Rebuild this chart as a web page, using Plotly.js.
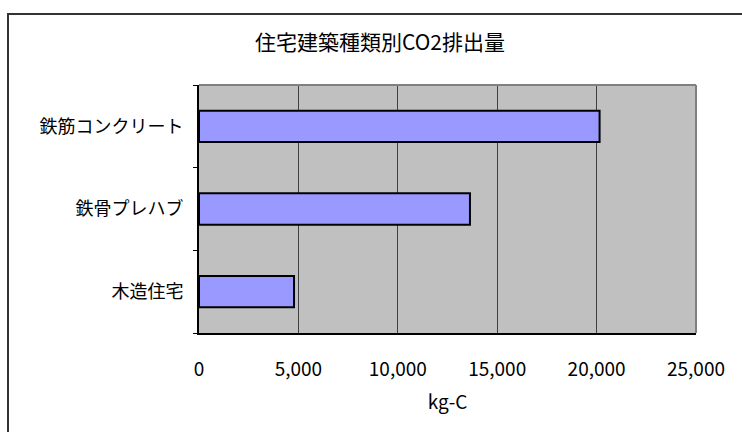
<!DOCTYPE html>
<html>
<head>
<meta charset="utf-8">
<script src="https://cdn.plot.ly/plotly-3.0.1.min.js"></script>
<style>
  html, body { margin: 0; padding: 0; background: #fff; overflow: hidden; }
  #wrap { position: relative; width: 742px; height: 432px; }
  #chart { position: absolute; left: 0; top: 0; width: 742px; height: 432px; }
  #frame { position: absolute; left: 7px; top: 13px; width: 800px; height: 500px;
           border-top: 2px solid #333; border-left: 2px solid #333; pointer-events: none; }
</style>
</head>
<body>
<div id="wrap">
  <div id="chart"></div>
  <div id="frame"></div>
</div>
<script>
// Data (bottom to top as drawn)
const categories = ['木造住宅', '鉄骨プレハブ', '鉄筋コンクリート'];
const values = [4780, 13630, 20150];
const xTicks = [0, 5000, 10000, 15000, 20000, 25000];
const titleText = '住宅建築種類別CO2排出量';
const xTitle = 'kg-C';

const font = '"Noto Sans CJK JP", "Noto Sans", sans-serif';

const trace = {
  type: 'bar',
  orientation: 'h',
  y: categories,
  x: values,
  marker: { color: '#9999FF', line: { color: '#000000', width: 2 } },
  hoverinfo: 'none'
};

const layout = {
  width: 742,
  height: 432,
  margin: { l: 199, r: 46, t: 85, b: 99 },
  paper_bgcolor: '#ffffff',
  plot_bgcolor: '#C0C0C0',
  showlegend: false,
  bargap: 0.62,
  font: { family: font, color: '#000', size: 18 },
  title: {
    text: titleText,
    font: { family: font, size: 21, color: '#000' },
    x: 380 / 742, xref: 'container', xanchor: 'center',
    y: 1 - 43 / 432, yref: 'container', yanchor: 'middle'
  },
  xaxis: {
    range: [0, 25000],
    tickvals: xTicks,
    tickformat: ',d',
    showgrid: true,
    gridcolor: '#404040',
    gridwidth: 1,
    zeroline: false,
    showline: true,
    linecolor: '#000',
    linewidth: 2,
    ticks: '',
    ticklabelstandoff: 18,
    tickfont: { family: font, size: 19, color: '#000' },
    title: { text: xTitle, font: { family: font, size: 19, color: '#000' }, standoff: 16 },
    automargin: false,
    fixedrange: true
  },
  yaxis: {
    type: 'category',
    showgrid: false,
    zeroline: false,
    showline: true,
    linecolor: '#000',
    linewidth: 2,
    ticks: 'outside',
    tickson: 'boundaries',
    ticklen: 4,
    tickcolor: '#000',
    tickwidth: 1,
    ticklabelstandoff: 10,
    tickfont: { family: font, size: 18, color: '#000' },
    automargin: false,
    fixedrange: true
  },
  shapes: [
    { type: 'line', xref: 'paper', yref: 'paper', x0: 0, x1: 1, y0: 1, y1: 1,
      line: { color: '#808080', width: 2 }, layer: 'above' },
    { type: 'line', xref: 'paper', yref: 'paper', x0: 1, x1: 1, y0: 0, y1: 1,
      line: { color: '#808080', width: 2 }, layer: 'above' }
  ]
};

Plotly.newPlot('chart', [trace], layout, { displayModeBar: false, staticPlot: true });
</script>
</body>
</html>
